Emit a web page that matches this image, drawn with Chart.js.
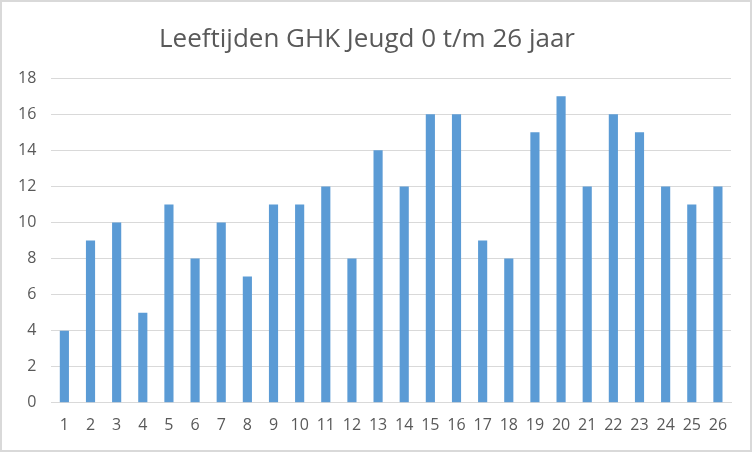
<!DOCTYPE html>
<html><head><meta charset="utf-8">
<script src="https://cdn.jsdelivr.net/npm/chart.js@4"></script>
<style>
html,body{margin:0;padding:0;background:#fff;}
#wrap{position:absolute;left:0;top:0;width:748px;height:448px;border:2px solid #d9d9d9;background:#fff;}
canvas{display:block;}
</style></head><body>
<div id="wrap"><canvas id="c" width="748" height="448"></canvas></div>
<script>
const categories = ["1","2","3","4","5","6","7","8","9","10","11","12","13","14","15","16","17","18","19","20","21","22","23","24","25","26"];
const values = [4,9,10,5,11,8,10,7,11,11,12,8,14,12,16,16,9,8,15,17,12,16,15,12,11,12];
const yTicks = [0,2,4,6,8,10,12,14,16,18];
const title = "Leeftijden GHK Jeugd 0 t/m 26 jaar";

new Chart(document.getElementById('c'), {
  type: 'bar',
  data: { labels: categories, datasets: [{ data: values, backgroundColor: '#5B9BD5', barPercentage: 0.7, categoryPercentage: 0.5 }] },
  options: {
    responsive: false, animation: false,
    layout: { padding: { left: 1, right: 19, top: 18, bottom: 10 } },
    plugins: {
      legend: { display: false }, tooltip: { enabled: false },
      title: { display: true, text: title, color: '#595959', font: { family: 'Open Sans', size: 26, weight: 'normal' }, padding: { top: 4, bottom: 23 } }
    },
    scales: {
      x: { grid: { display: false }, border: { color: '#d9d9d9' },
           ticks: { color: '#595959', font: { family: 'Open Sans', size: 16 }, padding: 5, maxRotation: 0, autoSkip: false } },
      y: { min: 0, max: 18, afterBuildTicks: ax => { ax.ticks = yTicks.map(v => ({ value: v })); },
           grid: { color: '#d9d9d9', drawTicks: false }, border: { display: false },
           ticks: { color: '#595959', font: { family: 'Open Sans', size: 16 }, padding: 15 } }
    }
  }
});
</script></body></html>
